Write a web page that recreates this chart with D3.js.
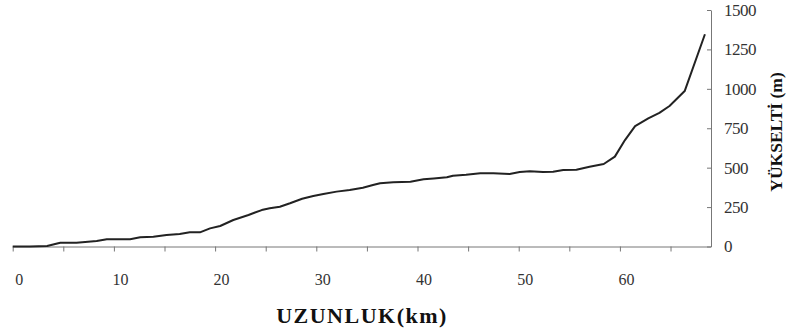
<!DOCTYPE html>
<html>
<head>
<meta charset="utf-8">
<script src="https://cdn.jsdelivr.net/npm/d3@7"></script>
<style>
  body { margin: 0; background: #fff; }
  svg { display: block; }
</style>
</head>
<body>
<div id="chart"></div>
<script>
// distance along the profile (km) and elevation (m)
const uzunluk = [0, 1.7, 3.4, 4.7, 6.3, 8.3, 9.3, 11.6, 12.6, 13.9, 15.2, 16.5, 17.5, 18.5,
  19.5, 20.5, 21.8, 23.3, 24.6, 25.4, 26.4, 27.4, 28.6, 29.7, 30.7, 32.0, 33.3, 34.6, 35.6,
  36.3, 37.6, 39.3, 40.6, 41.6, 42.9, 43.5, 44.8, 46.2, 47.5, 49.1, 50.1, 51.1, 52.4, 53.4,
  54.4, 55.7, 57.0, 58.4, 59.5, 60.5, 61.5, 62.8, 63.9, 64.9, 66.4, 68.4];
const yukselti = [0, 0, 3, 24, 24, 35, 46, 46, 58, 62, 73, 79, 90, 90,
  115, 130, 168, 200, 231, 242, 252, 274, 303, 320, 333, 348, 358, 373, 390,
  401, 407, 411, 426, 432, 439, 449, 455, 464, 464, 460, 472, 477, 472, 474,
  485, 487, 506, 523, 570, 675, 764, 813, 848, 891, 986, 1346];

const xTicks = [0, 5, 10, 15, 20, 25, 30, 35, 40, 45, 50, 55, 60, 65];
const yTicks = [0, 250, 500, 750, 1000, 1250, 1500];

const width = 789, height = 336;
const serif = "'Liberation Serif', 'Times New Roman', serif";

const svg = d3.select("#chart")
  .append("svg")
    .attr("width", width)
    .attr("height", height);

// scales
const x = d3.scaleLinear()
  .domain([0, 69])
  .range([12.7, 711]);
const y = d3.scaleLinear()
  .domain([0, 1500])
  .range([246.5, 10]);

// X axis (labels only every 10 km, shifted a bit right like the scan)
const xAxis = svg.append("g")
  .attr("transform", `translate(0, ${y(0)})`)
  .call(d3.axisBottom(x)
    .tickValues(xTicks)
    .tickFormat(d => d % 10 === 0 ? d : "")
    .tickSize(5)
    .tickSizeOuter(0)
    .tickPadding(22));
xAxis.select(".domain").attr("stroke", "#777");
xAxis.selectAll(".tick line").attr("stroke", "#777");
xAxis.selectAll("text")
  .attr("dx", 6)
  .style("font-family", serif)
  .style("font-size", "16px")
  .attr("fill", "#333");

// Y axis on the right side, ticks pointing inward
const yAxis = svg.append("g")
  .attr("transform", `translate(${x.range()[1]}, 0)`)
  .call(d3.axisRight(y)
    .tickValues(yTicks)
    .tickFormat(d3.format("d"))
    .tickSize(-4)
    .tickSizeOuter(0)
    .tickPadding(13));
yAxis.select(".domain").attr("stroke", "#777");
yAxis.selectAll(".tick line").attr("stroke", "#777");
yAxis.selectAll("text")
  .style("font-family", serif)
  .style("font-size", "17px")
  .style("letter-spacing", "-0.5px")
  .attr("fill", "#333");

// the profile line
const line = d3.line()
  .x((d, i) => x(uzunluk[i]))
  .y(d => y(d));

svg.append("path")
  .datum(yukselti)
  .attr("fill", "none")
  .attr("stroke", "#222")
  .attr("stroke-width", 2)
  .attr("stroke-linejoin", "round")
  .attr("d", line);

// axis titles
svg.append("text")
  .attr("x", 362)
  .attr("y", 323)
  .attr("text-anchor", "middle")
  .style("font-family", serif)
  .style("font-weight", "bold")
  .style("font-size", "22px")
  .style("letter-spacing", "1.5px")
  .attr("fill", "#111")
  .text("UZUNLUK(km)");

svg.append("text")
  .attr("transform", "translate(782, 132) rotate(-90)")
  .attr("text-anchor", "middle")
  .style("font-family", serif)
  .style("font-weight", "bold")
  .style("font-size", "17.5px")
  .attr("fill", "#111")
  .text("YÜKSELTİ (m)");
</script>
</body>
</html>
